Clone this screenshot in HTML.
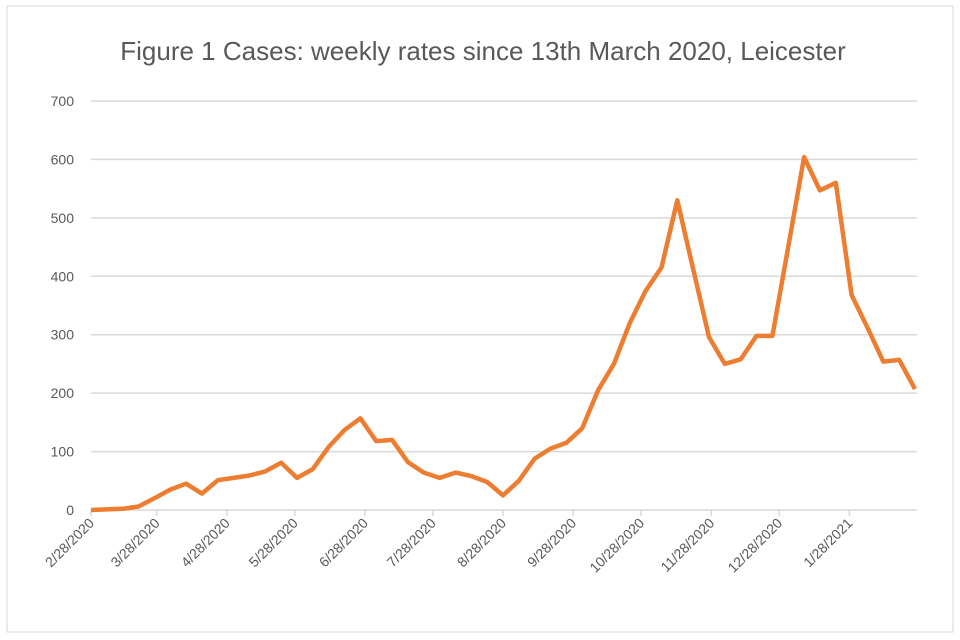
<!DOCTYPE html>
<html><head><meta charset="utf-8"><style>
body{margin:0;background:#fff;font-family:"Liberation Sans",sans-serif}
svg{display:block}
</style></head><body>
<svg id="c" width="960" height="640">
<rect x="7" y="6" width="946" height="626" fill="#fff" stroke="#d9d9d9"/>
<text x="483" y="60" text-anchor="middle" font-size="26" fill="#595959">Figure 1 Cases: weekly rates since 13th March 2020, Leicester</text>
<g id="grid"></g><g id="xa"></g><path id="line" fill="none" stroke="#ed7d31" stroke-width="4.5" stroke-linejoin="round"/>
</svg>
<script>
const values=[0,1,2,6,20,35,45,28,51,55,59,66,81,55,70,108,137,157,118,120,82,64,55,64,58,48,25,50,88,105,115,140,205,250,320,375,415,530,412,296,250,258,298,298,450,604,547,560,368,312,254,257,207];
const yTicks=[0,100,200,300,400,500,600,700];
const xTickLabels=["2/28/2020","3/28/2020","4/28/2020","5/28/2020","6/28/2020","7/28/2020","8/28/2020","9/28/2020","10/28/2020","11/28/2020","12/28/2020","1/28/2021"];
const start=new Date(2020,1,28);
const X0=91,X1=915,Y0=510,Y1=101;
const stepDays=7,totalDays=(values.length-1)*stepDays;
const xs=d=>X0+(d/totalDays)*(X1-X0);
const ys=v=>Y0-(v/700)*(Y0-Y1);
const ns="http://www.w3.org/2000/svg";
const grid=document.getElementById('grid'),xa=document.getElementById('xa');
yTicks.forEach(t=>{
 const l=document.createElementNS(ns,'line');
 
 
 l.setAttribute('x1',X0);l.setAttribute('x2',X1+2);l.setAttribute('y1',ys(t));l.setAttribute('y2',ys(t));
 l.setAttribute('stroke','#d9d9d9');l.setAttribute('stroke-width','1.5');grid.appendChild(l);
 const tx=document.createElementNS(ns,'text');
 
 
 tx.setAttribute('x',74);tx.setAttribute('y',ys(t)+5);tx.setAttribute('text-anchor','end');
 tx.setAttribute('font-size','14');tx.setAttribute('fill','#595959');tx.textContent=t;grid.appendChild(tx);
});
xTickLabels.forEach(s=>{
 const p=s.split('/');const d=new Date(+p[2],+p[0]-1,+p[1]);
 const days=Math.round((d-start)/86400000);const x=xs(days);
 const l=document.createElementNS(ns,'line');
 
 
 l.setAttribute('x1',x);l.setAttribute('x2',x);l.setAttribute('y1',Y0);l.setAttribute('y2',Y0+6);
 l.setAttribute('stroke','#d9d9d9');l.setAttribute('stroke-width','1.5');xa.appendChild(l);
 const tx=document.createElementNS(ns,'text');
 
 
 tx.setAttribute('transform','translate('+(x+4)+','+(Y0+14)+') rotate(-45)');
 tx.setAttribute('text-anchor','end');tx.setAttribute('font-size','14');tx.setAttribute('fill','#595959');
 tx.textContent=s;xa.appendChild(tx);
});
document.getElementById('line').setAttribute('d',values.map((v,i)=>(i?'L':'M')+xs(i*stepDays).toFixed(1)+','+ys(v).toFixed(1)).join(''));
</script>
</body></html>
